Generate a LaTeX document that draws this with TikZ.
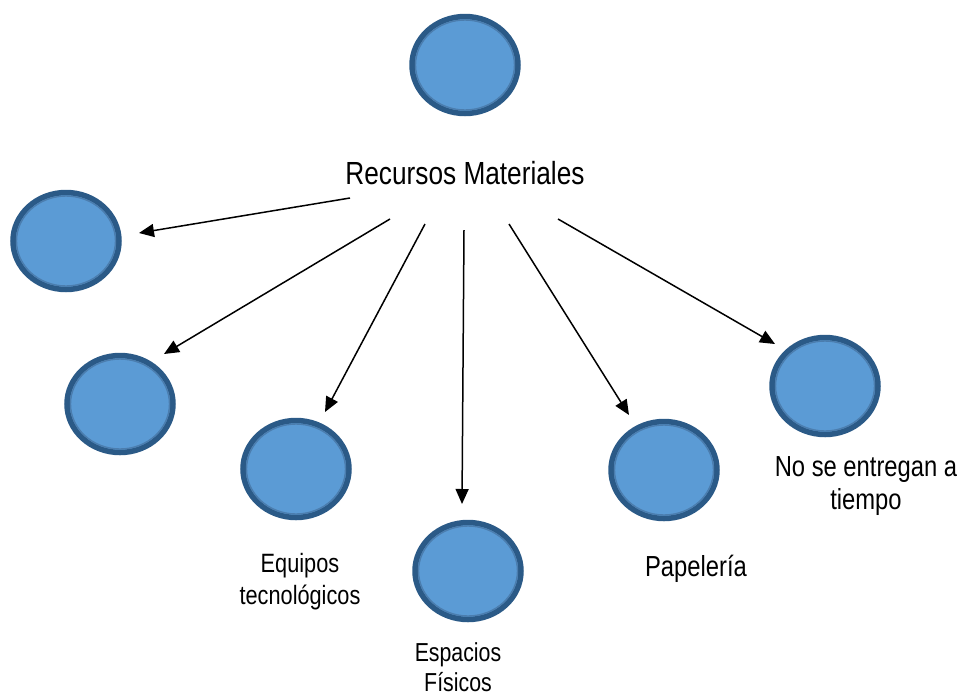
\documentclass[tikz,border=0pt]{standalone}
\usepackage{fontspec}
\setmainfont{Liberation Sans}[FakeStretch=0.82]
\usetikzlibrary{arrows.meta}
\definecolor{ringdark}{HTML}{2B5A87}
\definecolor{ringlight}{HTML}{4B7DAE}
\definecolor{discfill}{HTML}{5B9BD5}
\tikzset{
  disc/.style={ellipse, minimum width=106pt, minimum height=97pt, fill=discfill, draw=ringdark, line width=5.5pt, inner sep=0pt},
  inner ring/.style={draw=ringlight, line width=1.4pt},
  conn/.style={line width=1.5pt, -{Triangle[length=15pt,width=13pt]}},
  lbl/.style={align=center, inner sep=0pt, text depth=0pt}
}
\usetikzlibrary{shapes.geometric}
\begin{document}
\begin{tikzpicture}[x=1pt,y=-1pt]
\useasboundingbox (0,0) rectangle (964,697);
% discs
\foreach \n/\cx/\cy in {top/465/65, c1/66/241, c2/120/404, c3/296/469, c4/468/571, c5/664/470, c6/825/386}{
  \node[disc] (\n) at (\cx,\cy) {};
  \draw[inner ring] (\cx,\cy) ellipse [x radius=49.5, y radius=45];
}
% labels
\node[lbl, font=\fontsize{32}{36}\selectfont] (rm) at (465,173) {Recursos Materiales};
\node[lbl, font=\fontsize{26.5}{32}\selectfont, anchor=north] (eq) at (300,553) {Equipos\\tecnológicos};
\node[lbl, font=\fontsize{26}{30}\selectfont, anchor=north] (es) at (458,642) {Espacios\\Físicos};
\node[lbl, font=\fontsize{29}{33}\selectfont] (pa) at (696,566) {Papelería};
\node[lbl, font=\fontsize{29}{33}\selectfont, anchor=north] (ns) at (866,456) {No se entregan a\\tiempo};
% connector ends
\coordinate (s1) at (350,198); \coordinate (e1) at (139,233);
\coordinate (s2) at (390,219); \coordinate (e2) at (164,354);
\coordinate (s3) at (425,224); \coordinate (e3) at (325,412);
\coordinate (s4) at (464,230); \coordinate (e4) at (462,504);
\coordinate (s5) at (509,224); \coordinate (e5) at (629,415);
\coordinate (s6) at (558,219); \coordinate (e6) at (775,344);
\foreach \i in {1,...,6}{\draw[conn] (s\i) -- (e\i);}
\end{tikzpicture}
\end{document}
